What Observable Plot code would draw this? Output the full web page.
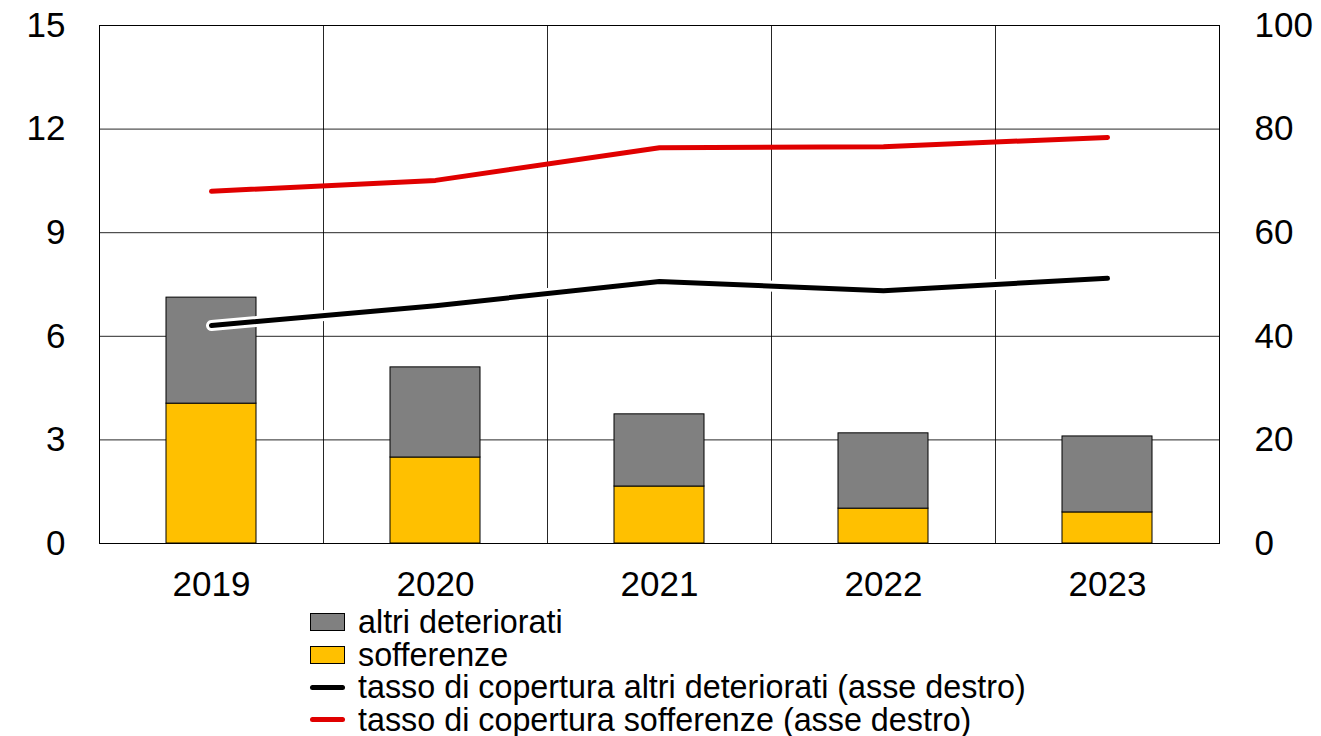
<!DOCTYPE html>
<html>
<head>
<meta charset="utf-8">
<script src="https://cdn.jsdelivr.net/npm/d3@7"></script>
<script src="https://cdn.jsdelivr.net/npm/@observablehq/plot@0.6"></script>
<style>
  html, body { margin: 0; padding: 0; background: #fff; }
  body { width: 1321px; height: 736px; overflow: hidden; position: relative; font-family: "Liberation Sans", Arial, sans-serif; }
  #chart { position: absolute; left: 0; top: 0; }
  #legend { position: absolute; left: 310px; top: 606px; font-size: 32.3px; color: #000; line-height: 32.5px; }
  .row { height: 32.5px; display: flex; align-items: center; white-space: nowrap; }
  .sw { width: 35px; height: 18px; box-sizing: border-box; border: 1px solid #000; margin-right: 13px; flex: none; }
  .ln { width: 35px; height: 5px; border-radius: 2.5px; margin-right: 13px; flex: none; }
</style>
</head>
<body>
<div id="chart"></div>
<div id="legend"></div>
<script>
const years = ["2019", "2020", "2021", "2022", "2023"];
const sofferenze = [4.05, 2.49, 1.65, 1.01, 0.90];
const altriDeteriorati = [3.07, 2.61, 2.09, 2.18, 2.20];
const coperturaAltri = [42.1, 45.9, 50.6, 48.8, 51.2];
const coperturaSofferenze = [68.0, 70.1, 76.4, 76.6, 78.4];
const leftTicks = [0, 3, 6, 9, 12, 15];
const rightMax = 100;
const leftMax = 15;

const seriesNames = ["sofferenze", "altri deteriorati"];
const seriesColors = ["#ffc000", "#808080"];

const bars = years.flatMap((y, i) => [
  { year: y, series: "sofferenze", value: sofferenze[i] },
  { year: y, series: "altri deteriorati", value: altriDeteriorati[i] }
]);
const toLeft = v => v * leftMax / rightMax;
const lineAltri = years.map((y, i) => ({ year: y, v: toLeft(coperturaAltri[i]) }));
const lineSoff = years.map((y, i) => ({ year: y, v: toLeft(coperturaSofferenze[i]) }));

const W = 1321, H = 640, ML = 99, MR = 102, MT = 25, MB = 97;
const step = (W - ML - MR) / years.length;

const chart = Plot.plot({
  width: W,
  height: H,
  marginLeft: ML,
  marginRight: MR,
  marginTop: MT,
  marginBottom: MB,
  style: { fontFamily: "'Liberation Sans', Arial, sans-serif", background: "transparent", color: "#000" },
  x: { domain: years, paddingInner: 0.6, paddingOuter: 0.3, label: null },
  y: { domain: [0, leftMax], label: null },
  color: { domain: seriesNames, range: seriesColors },
  marks: [
    Plot.gridY(leftTicks, { stroke: "#000", strokeOpacity: 0.85, strokeWidth: 1 }),
    Plot.ruleX(years.slice(1), { x: d => d, dx: -step / 2, stroke: "#000", strokeOpacity: 0.85, strokeWidth: 1 }),
    Plot.barY(bars, { x: "year", y: "value", fill: "series", stroke: "#000", strokeWidth: 1, order: seriesNames }),
    Plot.line(lineAltri, { x: "year", y: "v", stroke: "#fff", strokeWidth: 11, strokeLinecap: "round", strokeLinejoin: "round" }),
    Plot.line(lineAltri, { x: "year", y: "v", stroke: "#000", strokeWidth: 5, strokeLinecap: "round", strokeLinejoin: "round" }),
    Plot.line(lineSoff, { x: "year", y: "v", stroke: "#e00000", strokeWidth: 5, strokeLinecap: "round", strokeLinejoin: "round" }),
    Plot.frame({ stroke: "#000", strokeWidth: 1 }),
    Plot.axisY(leftTicks, { anchor: "left", tickSize: 0, tickPadding: 34, fontSize: 35, label: null }),
    Plot.axisY(leftTicks, { anchor: "right", tickSize: 0, tickPadding: 35, fontSize: 35, label: null, textAnchor: "start", tickFormat: d => String(Math.round(d * rightMax / leftMax)) }),
    Plot.axisX({ tickSize: 0, tickPadding: 28, fontSize: 35, label: null })
  ]
});
document.getElementById("chart").appendChild(chart);

const legendItems = [
  { label: "altri deteriorati", type: "box", color: "#808080" },
  { label: "sofferenze", type: "box", color: "#ffc000" },
  { label: "tasso di copertura altri deteriorati (asse destro)", type: "line", color: "#000" },
  { label: "tasso di copertura sofferenze (asse destro)", type: "line", color: "#e00000" }
];
const leg = document.getElementById("legend");
legendItems.forEach(it => {
  const row = document.createElement("div");
  row.className = "row";
  const sw = document.createElement("div");
  sw.className = it.type === "box" ? "sw" : "ln";
  sw.style.background = it.color;
  row.appendChild(sw);
  const t = document.createElement("span");
  t.textContent = it.label;
  row.appendChild(t);
  leg.appendChild(row);
});
</script>
</body>
</html>
